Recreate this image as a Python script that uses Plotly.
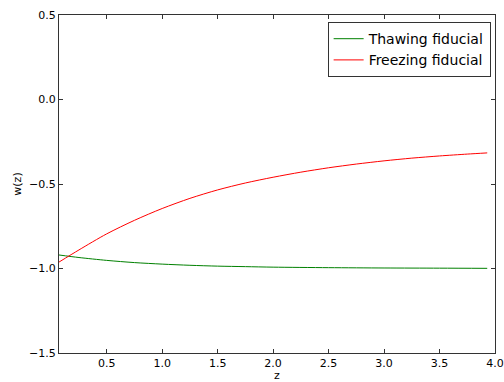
import plotly.graph_objects as go

z_freeze = [0.07, 0.25, 0.5, 0.75, 1.0, 1.25, 1.5, 1.75, 2.0, 2.25, 2.5, 2.75, 3.0, 3.25, 3.5, 3.75, 3.93]
w_freeze = [-0.962, -0.89, -0.795, -0.715, -0.645, -0.585, -0.535, -0.494, -0.46, -0.43, -0.404, -0.382, -0.363, -0.347, -0.334, -0.323, -0.316]

z_thaw = [0.07, 0.25, 0.5, 0.75, 1.0, 1.25, 1.5, 1.75, 2.0, 2.5, 3.0, 3.5, 3.93]
w_thaw = [-0.92, -0.935, -0.952, -0.965, -0.974, -0.981, -0.986, -0.989, -0.992, -0.995, -0.997, -0.998, -0.999]

x_ticks = [0.5, 1.0, 1.5, 2.0, 2.5, 3.0, 3.5, 4.0]
y_ticks = [-1.5, -1.0, -0.5, 0.0, 0.5]

fig = go.Figure()
fig.add_trace(go.Scatter(x=z_thaw, y=w_thaw, mode="lines", name="Thawing fiducial",
                         line=dict(color="#008000", width=1, shape="spline", smoothing=0.8)))
fig.add_trace(go.Scatter(x=z_freeze, y=w_freeze, mode="lines", name="Freezing fiducial",
                         line=dict(color="#ff0000", width=1, shape="spline", smoothing=0.8)))

axis_common = dict(showline=True, linecolor="#333", linewidth=1, mirror="ticks",
                   ticks="inside", ticklen=4, tickcolor="#333", showgrid=False,
                   zeroline=False, tickformat=".1f", automargin=False,
                   tickfont=dict(family="DejaVu Sans", size=11, color="black"))

fig.update_layout(
    width=504, height=382,
    margin=dict(l=59, r=9, t=15, b=29),
    plot_bgcolor="white", paper_bgcolor="white",
    font=dict(family="DejaVu Sans", size=11, color="black"),
    xaxis=dict(range=[0.07, 4.0], tickvals=x_ticks,
               title=dict(text="z", font=dict(size=11), standoff=6), **axis_common),
    yaxis=dict(range=[-1.5, 0.5], tickvals=y_ticks,
               title=dict(text="w(z)", font=dict(size=11), standoff=5), **axis_common),
    legend=dict(x=0.99, y=0.979, xanchor="right", yanchor="top",
                bordercolor="#333", borderwidth=1, bgcolor="white",
                font=dict(family="DejaVu Sans", size=14), tracegroupgap=0),
    showlegend=True,
)

fig.write_html("out.html")
